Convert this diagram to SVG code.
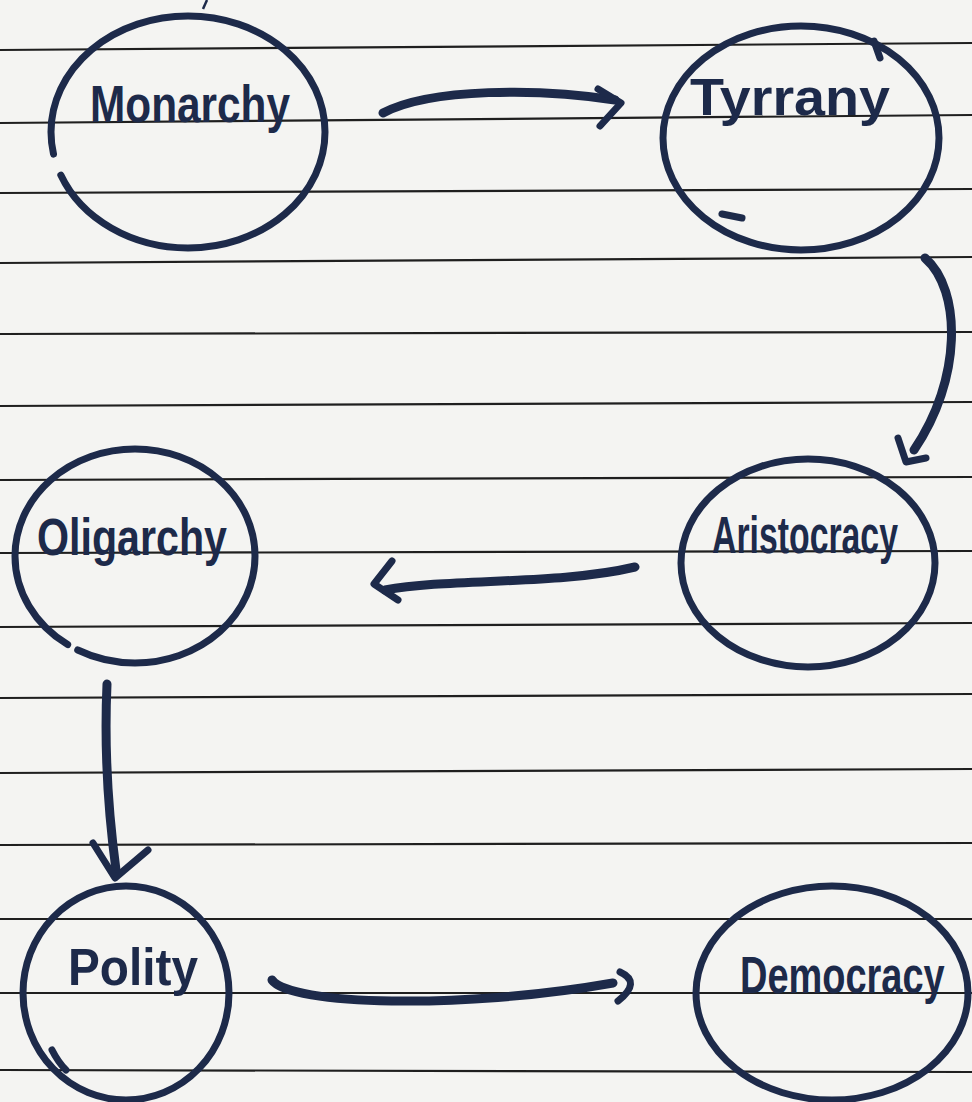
<svg xmlns="http://www.w3.org/2000/svg" width="972" height="1102" viewBox="0 0 972 1102">
<style>
.paper{fill:#f4f4f2}
.rule{stroke:#1f1f1f;stroke-width:2.2;fill:none}
.ring{fill:none;stroke:#1d2a4a;stroke-width:7;stroke-linecap:round;stroke-linejoin:round}
.arrow{fill:none;stroke:#1d2a4a;stroke-width:9;stroke-linecap:round;stroke-linejoin:round}
.head{fill:none;stroke:#1d2a4a;stroke-width:7;stroke-linecap:round;stroke-linejoin:round}
.label{font-family:"Liberation Sans","DejaVu Sans",sans-serif;font-weight:bold;font-size:52px;fill:#1d2a4a}
</style>
<rect class="paper" x="0" y="0" width="972" height="1102"/>
<g id="rules">
<line class="rule" x1="0" y1="50" x2="972" y2="43"/>
<line class="rule" x1="0" y1="123" x2="972" y2="115"/>
<line class="rule" x1="0" y1="193" x2="972" y2="189"/>
<line class="rule" x1="0" y1="263" x2="972" y2="257"/>
<line class="rule" x1="0" y1="334" x2="972" y2="332"/>
<line class="rule" x1="0" y1="406" x2="972" y2="402"/>
<line class="rule" x1="0" y1="480" x2="972" y2="477"/>
<line class="rule" x1="0" y1="553" x2="972" y2="551"/>
<line class="rule" x1="0" y1="627" x2="972" y2="623"/>
<line class="rule" x1="0" y1="698" x2="972" y2="694"/>
<line class="rule" x1="0" y1="773" x2="972" y2="769"/>
<line class="rule" x1="0" y1="845" x2="972" y2="843"/>
<line class="rule" x1="0" y1="919" x2="972" y2="919"/>
<line class="rule" x1="0" y1="993" x2="972" y2="993"/>
<line class="rule" x1="0" y1="1070" x2="972" y2="1072"/>
</g>
<path d="M 207 0 L 203 9" stroke="#1d2a4a" stroke-width="2.5" fill="none"/>
<g id="monarchy">
<ellipse class="ring" cx="188" cy="132" rx="137" ry="116" pathLength="100" stroke-dasharray="97.2 2.8" stroke-dashoffset="52.8"/>
<text class="label" x="90" y="122" textLength="200" lengthAdjust="spacingAndGlyphs">Monarchy</text>
</g>
<g id="tyrrany">
<ellipse class="ring" cx="801" cy="138" rx="138" ry="112"/>
<path class="ring" d="M 722 214 L 742 218"/>
<path class="ring" d="M 874 41 L 880 58"/>
<text class="label" x="690" y="115" textLength="200" lengthAdjust="spacingAndGlyphs">Tyrrany</text>
</g>
<g id="aristocracy">
<ellipse class="ring" cx="808" cy="563" rx="127" ry="104"/>
<text class="label" transform="translate(712 553) scale(0.65 1)" x="0" y="0">Aristocracy</text>
</g>
<g id="oligarchy">
<ellipse class="ring" cx="135" cy="556" rx="120" ry="107" pathLength="100" stroke-dasharray="98.4 1.6" stroke-dashoffset="65.1"/>
<text class="label" x="37" y="555" textLength="190" lengthAdjust="spacingAndGlyphs">Oligarchy</text>
</g>
<g id="polity">
<ellipse class="ring" cx="126" cy="993" rx="103" ry="107"/>
<path class="ring" d="M 52 1050 Q 58 1062 66 1070"/>
<text class="label" x="68" y="985" textLength="130" lengthAdjust="spacingAndGlyphs">Polity</text>
</g>
<g id="democracy">
<ellipse class="ring" cx="832" cy="993" rx="136" ry="107"/>
<text class="label" transform="translate(740 993) scale(0.73 1)" x="0" y="0">Democracy</text>
</g>
<g id="connectors">
<path class="arrow" d="M 383 113 C 430 88 540 88 615 100"/>
<path class="head" d="M 598 89 L 621 103 L 600 126"/>
<path class="arrow" d="M 925 258 C 962 290 962 380 914 450"/>
<path class="head" d="M 898 438 L 906 462 L 926 458"/>
<path class="arrow" d="M 635 567 C 560 585 450 578 385 590"/>
<path class="head" d="M 392 561 L 374 584 L 398 600"/>
<path class="arrow" d="M 107 684 C 104 750 108 810 116 870"/>
<path class="head" d="M 93 843 L 115 878 L 148 850"/>
<path class="arrow" d="M 272 980 C 290 1005 460 1010 613 983"/>
<path class="head" d="M 620 972 Q 642 982 618 1001"/>
</g>
</svg>
